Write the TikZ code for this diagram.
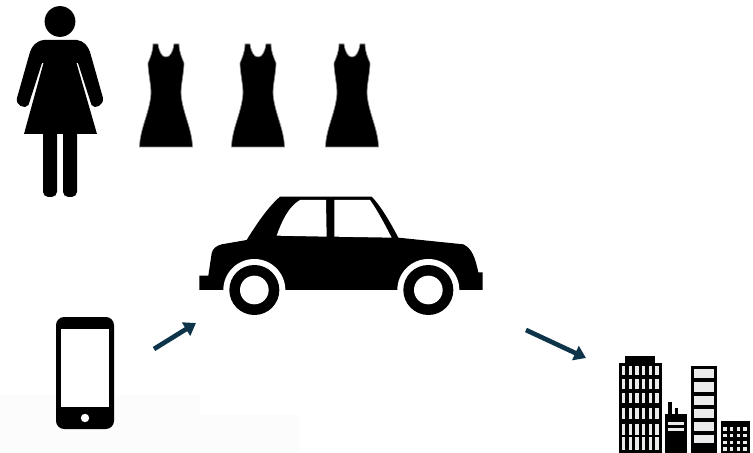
\documentclass[tikz,border=0pt]{standalone}
\usetikzlibrary{arrows.meta}
\definecolor{flow}{RGB}{14,52,74}
\definecolor{haze}{RGB}{252,252,252}
\tikzset{
  flowarrow/.style={flow, line width=4pt, -{Triangle[length=10pt,width=13pt]}},
  icon/.style={fill=black},
  soft/.style={fill=black, draw=black!45, line width=0.6pt},
  hole/.style={fill=white},
  pane/.style={fill=black!8},
}
\begin{document}
\begin{tikzpicture}[x=0.03cm,y=-0.03cm]
  \useasboundingbox (0,0) rectangle (753,453);
  % faint backdrop low on the left
  \fill[haze] (0,395) rectangle (200,453);
  \fill[haze] (200,415) rectangle (300,453);
  % woman
  \fill[icon] (60,21.5) circle (15.4);
  \fill[icon] (44,40) -- (77,40) .. controls (84,41) and (88,46) .. (90,52) -- (103,98)
    .. controls (104,105) and (95,110) .. (91.5,105) -- (78,63) -- (76.5,63) -- (97,134)
    -- (24,134) -- (43.5,63) -- (42,63) -- (28.5,105)
    .. controls (25,110) and (15,105) .. (17,98) -- (30,52)
    .. controls (32,46) and (36,41) .. (44,40) -- cycle;
  \fill[icon, rounded corners=4.5pt] (43,125) rectangle (57,197);
  \fill[icon, rounded corners=4.5pt] (63,125) rectangle (77,197);
  % dresses
  \foreach \cx in {166,258,352} {
    \begin{scope}[shift={(\cx,0)}]
      \filldraw[soft] (-13,44) -- (-8,44) .. controls (-7,52) and (-4,57) .. (0,57)
        .. controls (4,57) and (7,52) .. (8,44) -- (13,44)
        .. controls (13,52) and (16,58) .. (18,63) .. controls (18,72) and (15,84) .. (15,93)
        .. controls (16,112) and (26,128) .. (26.5,147) -- (-26.5,147)
        .. controls (-26,128) and (-16,112) .. (-15,93) .. controls (-15,84) and (-18,72) .. (-18,63)
        .. controls (-16,58) and (-13,52) .. (-13,44) -- cycle;
    \end{scope}
  }
  % car
  \begin{scope}[shift={(190,185)},scale=1/3]
    \fill[icon] (28,272) -- (55,272) -- (65,205) .. controls (68,190) and (80,182) .. (95,178)
      -- (170,165) .. controls (195,125) and (230,70) .. (270,35) -- (545,35) .. controls (570,60) and (600,110) .. (625,158)
      -- (820,178) .. controls (845,190) and (855,215) .. (865,262) -- (878,262) -- (878,315)
      -- (28,315) -- cycle;
    \foreach \wx in {193,715} {
      \fill[hole] (\wx,315) circle (93);
      \fill[icon] (\wx,315) circle (75);
      \fill[hole] (\wx,315) circle (43);
    }
    \fill[hole] (260,152) .. controls (275,110) and (295,65) .. (330,45) -- (408,45) -- (410,155) -- cycle;
    \fill[hole] (433,45) -- (540,45) .. controls (565,80) and (585,120) .. (605,158) -- (433,155) -- cycle;
  \end{scope}
  % phone
  \fill[icon, rounded corners=7pt] (56,317) rectangle (114,429);
  \fill[hole] (60.7,329) rectangle (109.3,407);
  \fill[hole] (85,418) circle (4.2);
  % arrows
  \coordinate (phoneout) at (154,349);
  \coordinate (carin) at (196,323);
  \coordinate (carout) at (526,330);
  \coordinate (cityin) at (586,358);
  \draw[flowarrow] (phoneout) -- (carin);
  \draw[flowarrow] (carout) -- (cityin);
  % city
  \begin{scope}[shift={(600,340)},scale=1/3]
    \fill[icon] (58,70) rectangle (185,339);
    \fill[icon] (76,48) rectangle (165,70);
    \foreach \wx in {66,86,106,126,146,166} {
      \foreach \wy/\wh in {78/105,116/146,160/190,205/238,252/284,292/330} {
        \fill[pane] (\wx,\wy) rectangle (\wx+10,\wh);
      }
    }
    \fill[icon] (205,185) rectangle (215,225);
    \fill[icon] (224,205) rectangle (233,225);
    \fill[icon] (195,222) rectangle (262,339);
    \fill[pane] (203,245) rectangle (252,255);
    \fill[pane] (203,263) rectangle (252,273);
    \fill[icon] (272,77) rectangle (352,339);
    \foreach \wy/\wh in {87/115,127/155,167/195,207/235,247/272,284/310} {
      \fill[pane] (283,\wy) rectangle (342,\wh);
    }
    \fill[icon] (362,243) rectangle (450,339);
    \foreach \wx in {370,390,410,430} {
      \foreach \wy in {262,282,302,322} {
        \fill[pane] (\wx,\wy) rectangle (\wx+10,\wy+10);
      }
    }
  \end{scope}
\end{tikzpicture}
\end{document}
